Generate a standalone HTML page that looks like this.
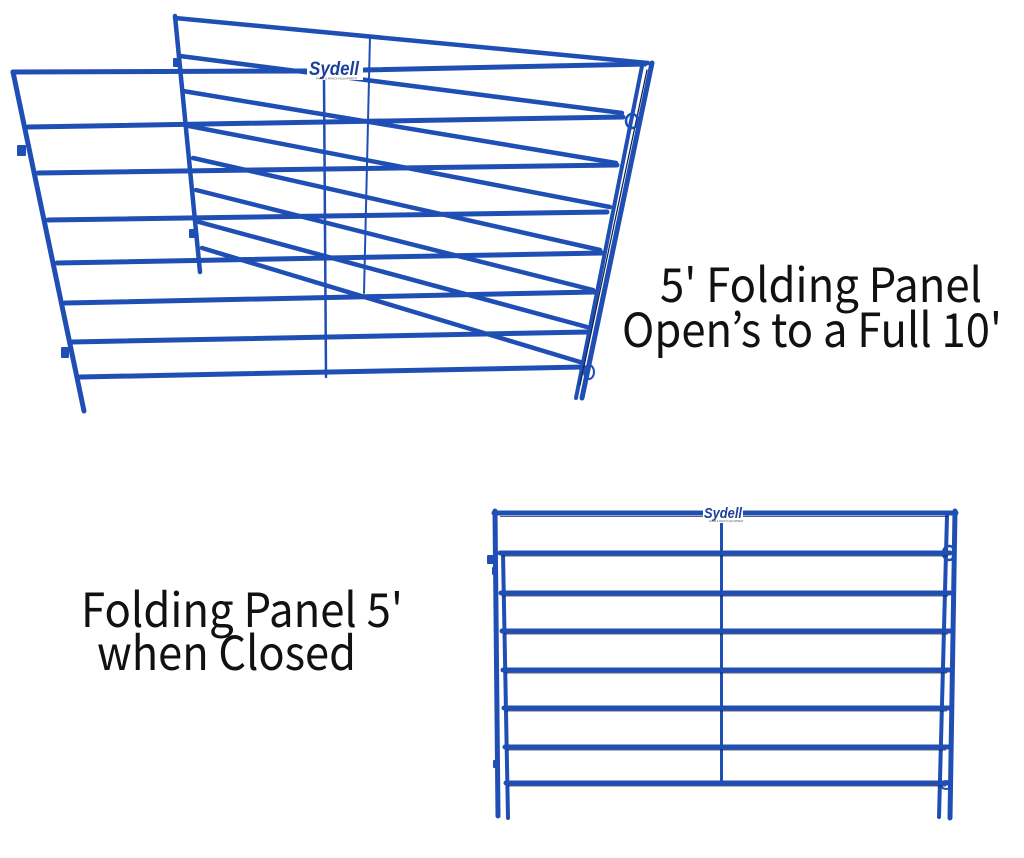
<!DOCTYPE html>
<html>
<head>
<meta charset="utf-8">
<style>
html,body{margin:0;padding:0;background:#fff;}
svg{display:block;}
.t{font-family:"Noto Sans CJK JP","Liberation Sans",sans-serif;fill:#111;font-weight:400;}
.logo{font-family:"Liberation Sans",sans-serif;font-style:italic;font-weight:bold;fill:#1c3f9c;}
</style>
</head>
<body>
<svg width="1024" height="858" viewBox="0 0 1024 858" xmlns="http://www.w3.org/2000/svg">
<rect width="1024" height="858" fill="#fff"/>

<!-- ============ TOP: open panel ============ -->
<g stroke="#1f4fb5" stroke-linecap="round" fill="none">
  <!-- back panel rails -->
  <g stroke-width="4.5">
    <line x1="175" y1="18" x2="648" y2="63"/>
    <line x1="180" y1="56" x2="622" y2="113"/>
    <line x1="183" y1="91" x2="616" y2="163"/>
    <line x1="189" y1="126" x2="610" y2="207"/>
    <line x1="193" y1="158" x2="600" y2="250"/>
    <line x1="196" y1="190" x2="593" y2="290"/>
    <line x1="199" y1="222" x2="587" y2="327"/>
    <line x1="202" y1="248" x2="580" y2="362"/>
  </g>
  <!-- back left post -->
  <line x1="175" y1="16" x2="200" y2="272" stroke-width="4.5"/>
  <!-- back center bar -->
  <line x1="370" y1="36" x2="364" y2="293" stroke-width="2"/>

  <!-- front panel rails -->
  <g stroke-width="5">
    <line x1="13" y1="72" x2="307" y2="71"/>
    <line x1="363" y1="70" x2="645" y2="64"/>
    <line x1="28" y1="127" x2="623" y2="117"/>
    <line x1="38" y1="173" x2="617" y2="165"/>
    <line x1="48" y1="220" x2="607" y2="212"/>
    <line x1="57" y1="263" x2="602" y2="253"/>
    <line x1="65" y1="303" x2="595" y2="292"/>
    <line x1="72" y1="342" x2="588" y2="332"/>
    <line x1="80" y1="377" x2="583" y2="367"/>
  </g>
  <!-- front left post -->
  <line x1="13" y1="72" x2="84" y2="411" stroke-width="5"/>
  <!-- front center bar -->
  <line x1="324" y1="80" x2="326" y2="377" stroke-width="2.5"/>

  <!-- right hinge posts -->
  <line x1="652" y1="63" x2="582" y2="398" stroke-width="5"/>
  <line x1="642" y1="66" x2="576" y2="398" stroke-width="4"/>
  <line x1="647" y1="70" x2="580" y2="385" stroke="#0d1d45" stroke-width="1.2"/>

  <!-- loops -->
  <ellipse cx="632" cy="121" rx="6" ry="7" stroke-width="2.5"/>
  <ellipse cx="589" cy="372" rx="5" ry="7" stroke-width="2"/>
</g>
<!-- tabs -->
<g fill="#1f4fb5">
  <rect x="17" y="145" width="9" height="11" rx="1"/>
  <rect x="61" y="347" width="8" height="11" rx="1"/>
  <rect x="173" y="58" width="8" height="9" rx="1"/>
  <rect x="189" y="229" width="7" height="9" rx="1"/>
</g>
<!-- top logo -->
<rect x="307" y="57" width="56" height="23" fill="#fff"/>
<text x="309" y="75" class="logo" font-size="19" textLength="50" lengthAdjust="spacingAndGlyphs">Sydell</text>
<text x="316" y="79.5" font-family="Liberation Sans,sans-serif" font-size="3" fill="#555">FARM &amp; RANCH EQUIPMENT</text>

<!-- ============ BOTTOM: closed panel ============ -->
<g stroke="#1f4fb5" stroke-linecap="round" fill="none">
  <g stroke-width="5">
    <line x1="494" y1="513" x2="703" y2="513"/>
    <line x1="743" y1="513" x2="956" y2="513"/>
    <line x1="500" y1="553" x2="950" y2="553"/>
    <line x1="501" y1="593" x2="950" y2="593"/>
    <line x1="502" y1="631" x2="950" y2="631"/>
    <line x1="503" y1="670" x2="949" y2="670"/>
    <line x1="504" y1="708" x2="949" y2="708"/>
    <line x1="505" y1="747" x2="948" y2="747"/>
    <line x1="506" y1="783" x2="948" y2="783"/>
  </g>
  <!-- left posts -->
  <line x1="495" y1="511" x2="498" y2="816" stroke-width="5"/>
  <line x1="503" y1="553" x2="508" y2="818" stroke-width="4"/>
  <!-- right posts -->
  <line x1="955" y1="511" x2="950" y2="818" stroke-width="5"/>
  <line x1="947" y1="516" x2="939" y2="817" stroke-width="4"/>
  <!-- center bar -->
  <line x1="721.5" y1="522" x2="721.5" y2="783" stroke-width="3"/>
  <!-- loops -->
  <ellipse cx="949" cy="553" rx="6" ry="7" stroke-width="2.5"/>
  <ellipse cx="946" cy="785" rx="5" ry="4" stroke-width="2"/>
</g>
<!-- dark shadow lines under rails -->
<g stroke="#0d1d45" stroke-width="1" opacity="0.7">
  <line x1="500" y1="516.5" x2="703" y2="516.5"/>
  <line x1="743" y1="516.5" x2="948" y2="516.5"/>
  <line x1="502" y1="556" x2="948" y2="556"/>
  <line x1="503" y1="596" x2="948" y2="596"/>
  <line x1="504" y1="634" x2="948" y2="634"/>
  <line x1="505" y1="673" x2="947" y2="673"/>
  <line x1="506" y1="711" x2="947" y2="711"/>
  <line x1="507" y1="750" x2="946" y2="750"/>
  <line x1="508" y1="786" x2="946" y2="786"/>
</g>
<g fill="#1f4fb5">
  <rect x="487" y="555" width="7" height="9" rx="1"/>
  <rect x="492" y="567" width="6" height="8" rx="1"/>
  <rect x="493" y="760" width="7" height="8" rx="1"/>
</g>
<!-- bottom logo -->
<rect x="703" y="504" width="40" height="19" fill="#fff"/>
<text x="704" y="518" class="logo" font-size="15" textLength="38" lengthAdjust="spacingAndGlyphs">Sydell</text>
<text x="709" y="522" font-family="Liberation Sans,sans-serif" font-size="2.5" fill="#555">FARM &amp; RANCH EQUIPMENT</text>

<!-- ============ TEXT ============ -->
<text class="t" x="660" y="302" font-size="47" textLength="322" lengthAdjust="spacingAndGlyphs">5' Folding Panel</text>
<text class="t" x="622" y="347" font-size="47" textLength="380" lengthAdjust="spacingAndGlyphs">Open’s to a Full 10'</text>
<text class="t" x="81" y="627" font-size="47" textLength="322" lengthAdjust="spacingAndGlyphs">Folding Panel 5'</text>
<text class="t" x="97" y="670" font-size="47" textLength="259" lengthAdjust="spacingAndGlyphs">when Closed</text>
</svg>
</body>
</html>
